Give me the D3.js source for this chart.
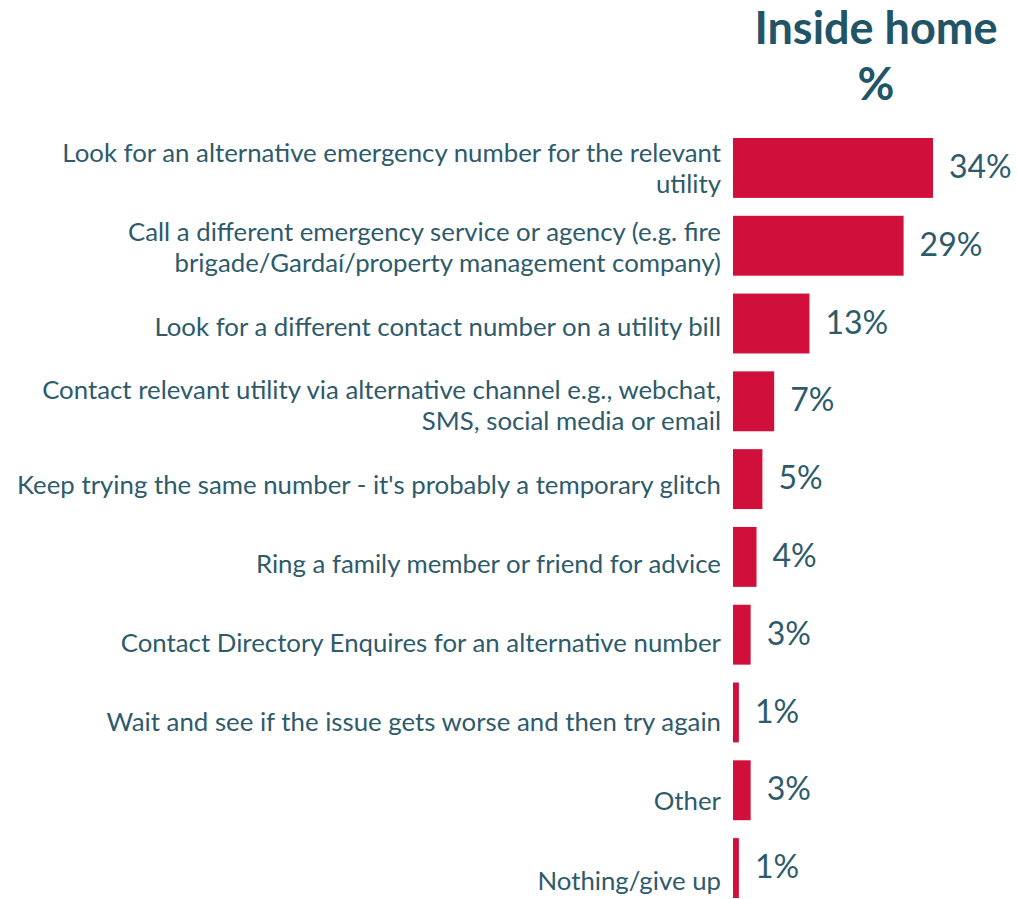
<!DOCTYPE html>
<html><head><meta charset="utf-8">
<script src="https://cdn.jsdelivr.net/npm/d3@7/dist/d3.min.js"></script>
<style>body{margin:0;background:#fff}svg{display:block}</style>
</head><body>
<script>
const categories = [
  "Look for an alternative emergency number for the relevant\nutility",
  "Call a different emergency service or agency (e.g. fire\nbrigade/Gardaí/property management company)",
  "Look for a different contact number on a utility bill",
  "Contact relevant utility via alternative channel e.g., webchat,\nSMS, social media or email",
  "Keep trying the same number - it's probably a temporary glitch",
  "Ring a family member or friend for advice",
  "Contact Directory Enquires for an alternative number",
  "Wait and see if the issue gets worse and then try again",
  "Other",
  "Nothing/give up"
];
const values = [34, 29, 13, 7, 5, 4, 3, 1, 3, 1];
const titleLines = ["Inside home", "%"];

const W = 1017, H = 899;
const font = "Lato, 'Noto Sans', sans-serif";
const textColor = "#2E5B6B";
const svg = d3.select("body").append("svg").attr("width", W).attr("height", H);

const x = d3.scaleLinear().domain([0, 34]).range([733, 933]);
const y = d3.scaleBand().domain(categories).range([138, 898]).paddingInner(0.23).paddingOuter(0);
const yLab = d3.scalePoint().domain(categories).range([171, 883]);

svg.selectAll("rect.bar").data(categories).join("rect")
  .attr("class", "bar")
  .attr("x", x(0))
  .attr("y", d => y(d))
  .attr("width", (d, i) => x(values[i]) - x(0))
  .attr("height", y.bandwidth())
  .attr("fill", "#D0103A");

svg.selectAll("text.val").data(categories).join("text")
  .attr("class", "val")
  .attr("x", (d, i) => x(values[i]) + 16)
  .attr("y", d => y(d) + y.bandwidth() / 2 + 2)
  .attr("dominant-baseline", "middle")
  .attr("font-family", font).attr("font-size", 32).attr("fill", textColor)
  .text((d, i) => values[i] + "%");

const lineH = 31;
const labs = svg.selectAll("text.lab").data(categories).join("text")
  .attr("class", "lab")
  .attr("text-anchor", "end")
  .attr("font-family", font).attr("font-size", 25.8).attr("fill", textColor);
labs.each(function(d) {
  const lines = d.split("\n");
  const c = yLab(d);
  d3.select(this).selectAll("tspan").data(lines).join("tspan")
    .attr("x", 721)
    .attr("y", (l, j) => c + (j - (lines.length - 1) / 2) * lineH)
    .attr("dominant-baseline", "middle")
    .text(l => l);
});

svg.selectAll("text.title").data(titleLines).join("text")
  .attr("class", "title")
  .attr("x", 876)
  .attr("y", (d, i) => 32 + i * 56)
  .attr("text-anchor", "middle").attr("dominant-baseline", "middle")
  .attr("font-family", font).attr("font-weight", "bold").attr("font-size", 45)
  .attr("fill", "#215466")
  .text(d => d);
</script>
</body></html>
